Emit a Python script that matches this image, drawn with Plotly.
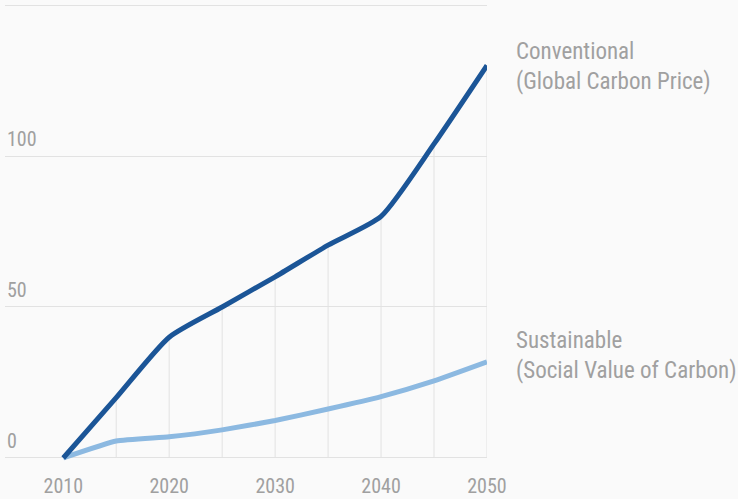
import plotly.graph_objects as go

years = [2010, 2015, 2020, 2025, 2030, 2035, 2040, 2045, 2050]
conventional = [0, 20, 40, 50, 60, 70.5, 80, 104, 130]
sustainable = [0, 5.6, 7, 9.3, 12.4, 16.2, 20.3, 25.5, 31.8]
x_ticks = [2010, 2020, 2030, 2040, 2050]
y_ticks = [0, 50, 100, 150]
y_labels = ["0", "50", "100"]
series_names = ["Conventional<br>(Global Carbon Price)", "Sustainable<br>(Social Value of Carbon)"]

FONT = "Roboto Condensed, Liberation Sans Narrow, Roboto, sans-serif"
TXT = "#a0a0a0"
DARK = "#1b5597"
LIGHT = "#8cb9e1"
GRID = "#e2e2e2"
BG = "#fafafa"

fig = go.Figure()

# drop lines from conventional curve to baseline
fig.add_trace(go.Scatter(
    x=years[1:], y=conventional[1:], mode="markers",
    marker=dict(size=0.1, opacity=0),
    error_y=dict(type="data", symmetric=False, array=[0] * (len(years) - 1),
                 arrayminus=conventional[1:], width=0, thickness=1, color=GRID),
    hoverinfo="skip", showlegend=False, cliponaxis=False,
))

fig.add_trace(go.Scatter(
    x=years, y=sustainable, mode="lines",
    line=dict(color=LIGHT, width=5, shape="spline", smoothing=0.4),
    showlegend=False, cliponaxis=False,
))
fig.add_trace(go.Scatter(
    x=years, y=conventional, mode="lines",
    line=dict(color=DARK, width=5, shape="spline", smoothing=0.6),
    showlegend=False, cliponaxis=False,
))

annotations = []
for lab in y_labels:
    annotations.append(dict(
        x=0, xref="paper", y=float(lab), yref="y", text=lab, showarrow=False,
        xanchor="left", yanchor="bottom", xshift=0, yshift=3,
        font=dict(family=FONT, size=20, color=TXT),
    ))
for name, vals, ys in zip(series_names, [conventional, sustainable], [-1, 6]):
    annotations.append(dict(
        x=years[-1], xref="x", y=vals[-1], yref="y", text=name, showarrow=False,
        xanchor="left", yanchor="middle", xshift=27, yshift=ys, align="left",
        font=dict(family=FONT, size=23, color=TXT),
    ))

fig.update_layout(
    width=738, height=499,
    margin=dict(l=5, r=251, t=2, b=38),
    paper_bgcolor=BG, plot_bgcolor=BG,
    annotations=annotations,
    xaxis=dict(
        range=[2004.5, 2050], tickvals=x_ticks, ticktext=[str(v) for v in x_ticks],
        showgrid=False, zeroline=False, showline=False, automargin=False,
        tickfont=dict(family=FONT, size=20, color=TXT), ticks="", ticklabelstandoff=11,
    ),
    yaxis=dict(
        range=[-1, 151], tickvals=y_ticks, showticklabels=False, automargin=False,
        showgrid=True, gridcolor=GRID, gridwidth=1, zeroline=False, showline=False,
    ),
    hovermode=False,
)

fig.write_html("out.html", config={"displayModeBar": False},
               post_script="document.body.style.margin='0';document.body.style.background='#fafafa';")
